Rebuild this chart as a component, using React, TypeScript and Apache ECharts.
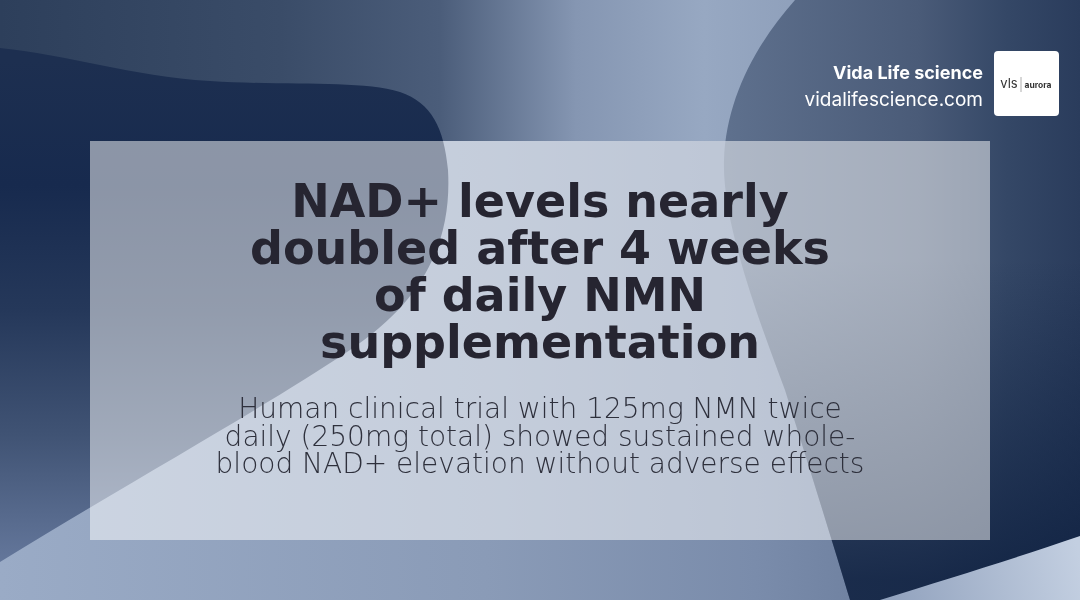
import React, { useEffect, useRef } from 'react';
import * as echarts from 'echarts';

// Texts of the card
const titleLines = ['NAD+ levels nearly', 'doubled after 4 weeks', 'of daily NMN', 'supplementation'];
const subtitleLines = [
  'Human clinical trial with 125mg NMN twice',
  'daily (250mg total) showed sustained whole-',
  'blood NAD+ elevation without adverse effects'
];
const brandName = 'Vida Life science';
const brandUrl = 'vidalifescience.com';
const logoMarks = ['vls', 'aurora'];

// Background swooshes
const SWOOSH_LEFT =
  'M0,48 C70,55 130,76 210,81 C290,86 360,80 400,92 C432,103 444,128 448,170 C452,240 425,300 350,350 C260,410 150,470 0,562 Z';
const SHAPE_RIGHT =
  'M795,0 L1080,0 L1080,600 L850,600 C835,550 810,470 785,390 C755,310 722,220 724,160 C726,100 755,45 795,0 Z';
const SWOOSH_BOTTOM = 'M880,600 C950,578 1010,560 1080,536 L1080,600 Z';

echarts.graphic.registerShape('swooshLeft', echarts.graphic.extendPath(SWOOSH_LEFT, {}));
echarts.graphic.registerShape('shapeRight', echarts.graphic.extendPath(SHAPE_RIGHT, {}));
echarts.graphic.registerShape('swooshBottom', echarts.graphic.extendPath(SWOOSH_BOTTOM, {}));

const lin = (x: number, y: number, x2: number, y2: number, stops: [number, string][]) => ({
  type: 'linear',
  x, y, x2, y2,
  global: true,
  colorStops: stops.map(([offset, color]) => ({ offset, color }))
});

export default function App() {
  const chartRef = useRef<HTMLDivElement>(null);

  useEffect(() => {
    if (!chartRef.current) return;
    const chart = echarts.init(chartRef.current, undefined, { renderer: 'svg' });

    const option: any = {
      animation: false,
      graphic: [
        // base
        {
          type: 'rect', silent: true,
          shape: { x: 0, y: 0, width: 1080, height: 600 },
          style: { fill: lin(0, 0, 1080, 0, [[0, '#9aabc6'], [0.45, '#8a9bb7'], [0.7, '#7a8cab'], [1, '#5a6c8b']]) }
        },
        // top band
        {
          type: 'rect', silent: true,
          shape: { x: 0, y: 0, width: 820, height: 141 },
          style: {
            fill: lin(0, 0, 800, 0, [[0, '#2d3f5b'], [0.35, '#3a4c68'], [0.55, '#4b5d7a'], [0.72, '#8596b2'], [0.88, '#97a8c2'], [1, '#8fa0bb']])
          }
        },
        {
          type: 'swooshLeft', silent: true,
          style: {
            fill: lin(0, 60, 0, 560, [[0, '#1d2f50'], [0.25, '#172a4e'], [0.5, '#25385a'], [0.75, '#405374'], [1, '#63769a']])
          }
        },
        {
          type: 'shapeRight', silent: true,
          style: {
            fill: lin(720, 0, 1080, 0, [[0, '#5f718e'], [0.55, '#4a5b78'], [0.8, '#344766'], [1, '#2a3c5c']])
          }
        },
        // darkening of the right shape toward the bottom
        {
          type: 'shapeRight', silent: true,
          style: {
            fill: lin(0, 260, 0, 580, [[0, 'rgba(12,30,62,0)'], [1, 'rgba(12,30,62,0.8)']])
          }
        },
        {
          type: 'swooshBottom', silent: true,
          style: { fill: lin(880, 600, 1080, 560, [[0, '#8fa0bc'], [1, '#c3cfe1']]) }
        },
        // translucent panel
        {
          type: 'rect', silent: true,
          shape: { x: 90, y: 141, width: 900, height: 399 },
          style: { fill: 'rgba(255,255,255,0.5)' }
        },
        {
          type: 'text', silent: true,
          x: 540, y: 177,
          style: {
            text: titleLines.join('\n'),
            align: 'center', verticalAlign: 'top',
            fontFamily: 'DejaVu Sans', fontWeight: 700, fontSize: 46, lineHeight: 47,
            fill: '#262531'
          }
        },
        {
          type: 'text', silent: true,
          x: 540, y: 395,
          style: {
            text: subtitleLines.join('\n'),
            align: 'center', verticalAlign: 'top',
            fontFamily: 'DejaVu Sans', fontWeight: 200, fontSize: 28, lineHeight: 27.5,
            fill: '#2e303c'
          }
        },
        // brand
        {
          type: 'text', silent: true,
          x: 983, y: 72,
          style: { text: brandName, align: 'right', verticalAlign: 'middle', fontFamily: 'Inter', fontWeight: 700, fontSize: 18, fill: '#ffffff' }
        },
        {
          type: 'text', silent: true,
          x: 983, y: 99,
          style: { text: brandUrl, align: 'right', verticalAlign: 'middle', fontFamily: 'Inter', fontWeight: 400, fontSize: 19, fill: '#ffffff' }
        },
        {
          type: 'rect', silent: true,
          shape: { x: 994, y: 51, width: 65, height: 65, r: 4 },
          style: { fill: '#ffffff' }
        },
        {
          type: 'text', silent: true,
          x: 1009, y: 83,
          style: { text: logoMarks[0], align: 'center', verticalAlign: 'middle', fontFamily: 'Inter', fontSize: 13, fill: '#333333' }
        },
        {
          type: 'line', silent: true,
          shape: { x1: 1021, y1: 77, x2: 1021, y2: 92 },
          style: { stroke: '#9a9a9a', lineWidth: 0.8 }
        },
        {
          type: 'text', silent: true,
          x: 1038, y: 85,
          style: { text: logoMarks[1], align: 'center', verticalAlign: 'middle', fontFamily: 'Inter', fontWeight: 700, fontSize: 8.5, fill: '#333333' }
        }
      ]
    };

    chart.setOption(option);
    return () => chart.dispose();
  }, []);

  return (
    <div
      ref={chartRef}
      style={{ position: 'fixed', left: 0, top: 0, width: '1080px', height: '600px' }}
    />
  );
}
